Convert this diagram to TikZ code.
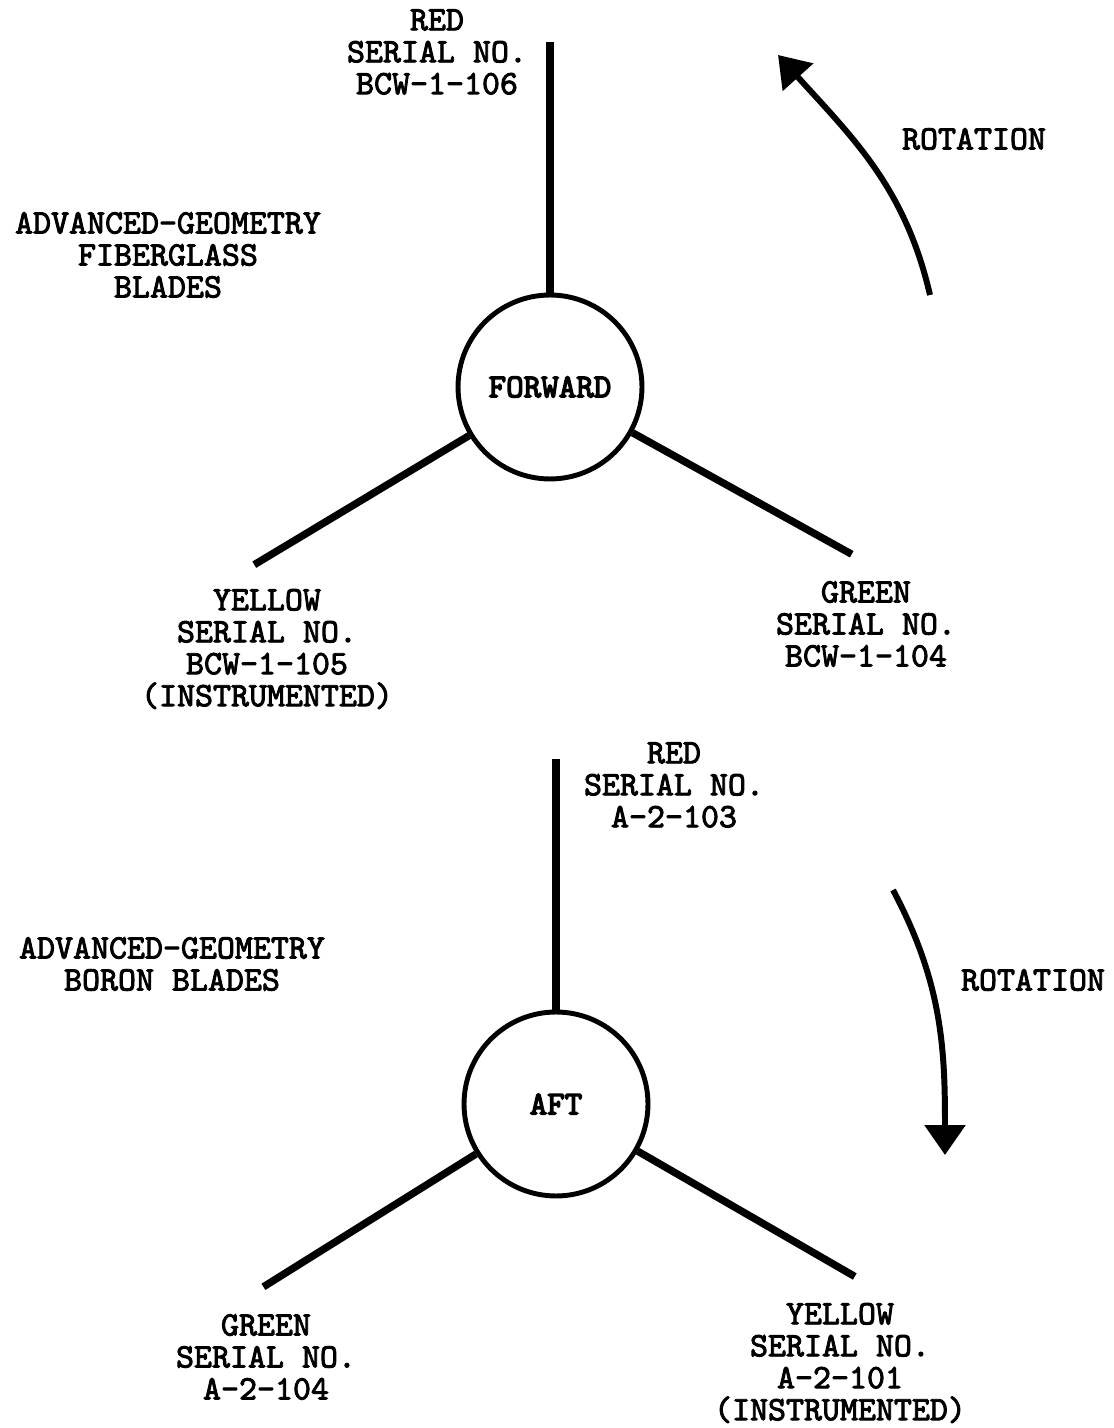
\documentclass[tikz,border=0pt]{standalone}
\usepackage{fontspec}
\newfontfamily\typefont{lmmono10-regular.otf}[FakeBold=2.6]
\newfontfamily\hubfont{lmmono10-regular.otf}[FakeBold=4]
\usetikzlibrary{calc,arrows.meta}

\tikzset{
  label/.style={align=center,font=\typefont\fontsize{19.5}{18.2}\selectfont,inner sep=0pt},
  hub/.style={draw,circle,line width=2.8pt,minimum size=3.68cm,inner sep=0pt,
    font=\hubfont\fontsize{19}{18}\selectfont},
  blade/.style={line width=4.2pt},
  turn/.style={line width=3.4pt,-{Triangle[length=0.6cm,width=0.8cm]}}
}

\begin{document}
\begin{tikzpicture}[x=0.02cm,y=0.02cm]
  \useasboundingbox (0,0) rectangle (1114,1428);

  % forward rotor
  \node[hub] (fwd) at (550,1041) {FORWARD};
  \foreach \a/\i in {90/1,211/2,331/3} {
    \draw[blade] (fwd) -- ($(fwd.center)+(\a:345)$) coordinate (fwdtip\i);}

  \node[label] (fwdred) at (437,1376) {RED\\SERIAL NO.\\BCW-1-106};
  \node[label] (fwdtitle) at (168,1173) {ADVANCED-GEOMETRY\\FIBERGLASS\\BLADES};
  \node[label] (fwdyellow) at (267,779) {YELLOW\\SERIAL NO.\\BCW-1-105\\(INSTRUMENTED)};
  \node[label] (fwdgreen) at (866,804) {GREEN\\SERIAL NO.\\BCW-1-104};
  \node[label] (fwdrot) at (974,1289) {ROTATION};

  \coordinate (fwdfrom) at (930,1133);
  \coordinate (fwdto) at (778,1373);
  \draw[turn] (fwdfrom) to[out=103,in=-48] (fwdto);

  % aft rotor
  \node[hub] (aft) at (556,324) {AFT};
  \foreach \a/\i in {90/1,212/2,330/3} {
    \draw[blade] (aft) -- ($(aft.center)+(\a:345)$) coordinate (afttip\i);}

  \node[label] (aftred) at (674,643) {RED\\SERIAL NO.\\A-2-103};
  \node[label] (afttitle) at (172,464) {ADVANCED-GEOMETRY\\BORON BLADES};
  \node[label] (aftgreen) at (266,71) {GREEN\\SERIAL NO.\\A-2-104};
  \node[label] (aftyellow) at (840,65) {YELLOW\\SERIAL NO.\\A-2-101\\(INSTRUMENTED)};
  \node[label] (aftrot) at (1033,448) {ROTATION};

  \coordinate (aftfrom) at (893,538);
  \coordinate (aftto) at (945,273);
  \draw[turn] (aftfrom) to[out=-62,in=90] (aftto);
\end{tikzpicture}
\end{document}
